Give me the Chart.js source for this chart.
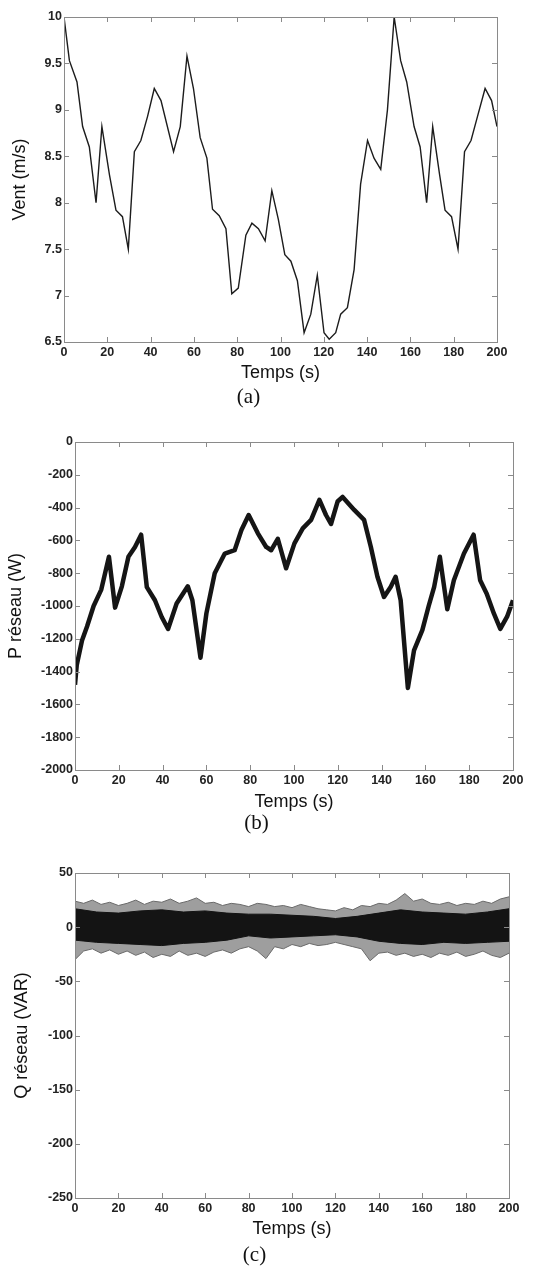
<!DOCTYPE html>
<html>
<head>
<meta charset="utf-8">
<script src="https://cdn.jsdelivr.net/npm/chart.js@4.4.0/dist/chart.umd.min.js"></script>
<style>
  body { margin: 0; background: #fff; }
  #page { position: relative; width: 550px; height: 1266px; }
  canvas { position: absolute; left: 0; }
</style>
</head>
<body>
<div id="page">
  <canvas id="chartVent" width="550" height="408" style="top:0px"></canvas>
  <canvas id="chartP" width="550" height="426" style="top:408px"></canvas>
  <canvas id="chartQ" width="550" height="432" style="top:834px"></canvas>
</div>
<script>
// Axe commun des temps
const tempsTicks = [0, 20, 40, 60, 80, 100, 120, 140, 160, 180, 200];

// (a) vent
const ventTemps = [0, 2.5, 6, 8.6, 11.7, 14.8, 17.5, 21, 24, 27, 29.7, 32.5, 35.5, 38.6, 41.7, 44.8, 50.6, 53.7, 56.8, 59.8, 62.9, 66, 68.6, 71.7, 74.8, 77.5, 80.5, 84, 86.8, 89.8, 92.9, 96, 99, 102, 104.8, 107.8, 110.9, 114, 117, 120.1, 122.5, 125.5, 127.8, 130.9, 134, 137, 140.2, 143.2, 146.3, 149.4, 152.5, 155.5, 158.3, 161.7, 164.5, 167.5, 170.3, 173.5, 176, 179, 182, 185, 188, 191, 194.5, 197.5, 200];
const ventValeurs = [10, 9.53, 9.3, 8.82, 8.6, 8.0, 8.82, 8.3, 7.92, 7.85, 7.5, 8.55, 8.67, 8.93, 9.23, 9.1, 8.55, 8.82, 9.58, 9.23, 8.7, 8.48, 7.93, 7.86, 7.72, 7.02, 7.08, 7.65, 7.78, 7.72, 7.59, 8.13, 7.82, 7.44, 7.37, 7.16, 6.6, 6.8, 7.22, 6.6, 6.53, 6.6, 6.8, 6.87, 7.28, 8.2, 8.67, 8.48, 8.36, 9.0, 10.0, 9.53, 9.3, 8.82, 8.6, 8.0, 8.82, 8.3, 7.92, 7.85, 7.5, 8.55, 8.67, 8.93, 9.23, 9.1, 8.82];
const ventTicks = [6.5, 7, 7.5, 8, 8.5, 9, 9.5, 10];

// (b) puissance active reseau
const pTemps = [0, 0.8, 3.2, 5.5, 8.5, 12, 15.5, 18.3, 21.4, 24.4, 27.4, 30.2, 32.8, 36.5, 39.6, 42.5, 46.4, 51.5, 53.6, 57.3, 60, 63.8, 68.4, 72.9, 76, 79.3, 83.5, 87.3, 89.6, 92.6, 96.4, 100.2, 104, 107.8, 111.6, 114.6, 116.9, 119.9, 122.2, 127.5, 132, 135.1, 138.1, 141.1, 144.2, 146.4, 148.7, 152, 154.8, 158.6, 161.5, 164, 166.6, 170, 173, 177.6, 182, 185, 188, 191.3, 194.2, 197.3, 200];
const pValeurs = [-1480, -1360, -1210, -1125, -1000, -900, -700, -1010, -880, -700, -640, -565, -885, -965, -1067, -1140, -985, -880, -965, -1315, -1045, -800, -680, -660, -537, -445, -557, -640, -660, -590, -770, -618, -527, -475, -353, -445, -500, -363, -335, -414, -475, -640, -822, -945, -883, -822, -965, -1500, -1270, -1147, -1000, -883, -700, -1020, -843, -680, -565, -843, -925, -1047, -1140, -1065, -965];
const pTicks = [-2000, -1800, -1600, -1400, -1200, -1000, -800, -600, -400, -200, 0];

// (c) puissance reactive reseau : enveloppes
const qTempsPics = [0, 4, 8, 12, 16, 20, 24, 28, 32, 36, 40, 44, 48, 52, 56, 60, 64, 68, 72, 76, 80, 84, 88, 92, 96, 100, 104, 108, 112, 116, 120, 124, 128, 132, 136, 140, 144, 148, 152, 156, 160, 164, 168, 172, 176, 180, 184, 188, 192, 196, 200];
const qPicsHaut = [24, 22, 25, 21, 23, 20, 22, 25, 21, 24, 23, 26, 22, 24, 27, 22, 23, 20, 22, 21, 19, 22, 21, 19, 20, 18, 21, 19, 17, 16, 15, 18, 16, 20, 19, 22, 21, 25, 31, 24, 26, 22, 21, 23, 20, 22, 21, 24, 22, 26, 28];
const qPicsBas = [-30, -22, -20, -24, -21, -25, -22, -26, -23, -28, -25, -27, -22, -26, -24, -27, -23, -21, -24, -20, -18, -22, -29, -18, -20, -16, -18, -15, -17, -16, -14, -16, -18, -20, -31, -24, -23, -26, -24, -27, -25, -28, -24, -26, -23, -27, -25, -22, -26, -28, -24];
const qTempsCoeur = [0, 10, 20, 30, 40, 50, 60, 70, 80, 90, 100, 110, 120, 130, 140, 150, 160, 170, 180, 190, 200];
const qCoeurHaut = [17, 14, 13, 15, 16, 14, 15, 13, 12, 12, 11, 10, 8, 10, 13, 16, 14, 13, 12, 14, 17];
const qCoeurBas = [-12, -14, -15, -16, -17, -15, -14, -12, -8, -10, -9, -8, -7, -9, -13, -15, -16, -14, -15, -14, -13];
const qTicks = [-250, -200, -150, -100, -50, 0, 50];

const police = "'Liberation Sans', Arial, sans-serif";
const policeSerif = "'Liberation Serif', 'Times New Roman', serif";

function points(xs, ys) {
    return xs.map((x, i) => ({ x: x, y: ys[i] }));
}

// Cadre et graduations vers l'interieur, comme sous MATLAB
const cadreMatlab = {
    id: 'cadreMatlab',
    afterDraw(chart) {
        const { ctx, chartArea: a, scales: { x, y } } = chart;
        ctx.save();
        ctx.strokeStyle = '#8a8a8a';
        ctx.lineWidth = 1;
        ctx.beginPath();
        x.ticks.forEach(t => {
            const px = Math.round(x.getPixelForValue(t.value)) + 0.5;
            ctx.moveTo(px, a.bottom); ctx.lineTo(px, a.bottom - 5);
            ctx.moveTo(px, a.top); ctx.lineTo(px, a.top + 5);
        });
        y.ticks.forEach(t => {
            const py = Math.round(y.getPixelForValue(t.value)) + 0.5;
            ctx.moveTo(a.left, py); ctx.lineTo(a.left + 5, py);
            ctx.moveTo(a.right, py); ctx.lineTo(a.right - 5, py);
        });
        ctx.stroke();
        ctx.strokeRect(Math.round(a.left) + 0.5, Math.round(a.top) + 0.5, Math.round(a.width), Math.round(a.height));
        ctx.restore();
    }
};

function options(cfg) {
    return {
        responsive: false,
        animation: false,
        layout: { padding: { top: cfg.haut, right: cfg.droite, left: 0, bottom: 0 } },
        plugins: {
            legend: { display: false },
            tooltip: { enabled: false },
            title: {
                display: true,
                position: 'bottom',
                text: cfg.legende,
                color: '#111',
                padding: 0,
                font: { family: policeSerif, size: 21, weight: 'normal', lineHeight: 1 }
            }
        },
        scales: {
            x: {
                type: 'linear',
                min: 0,
                max: 200,
                afterBuildTicks: s => { s.ticks = tempsTicks.map(v => ({ value: v })); },
                afterFit: s => { s.height = cfg.hautX; },
                grid: { display: false, drawTicks: false },
                border: { display: false },
                ticks: { autoSkip: false, maxRotation: 0, padding: 3, color: '#222',
                    callback: v => String(v),
                    font: { family: police, size: 12.5, weight: 'bold' } },
                title: { display: true, text: 'Temps (s)', color: '#111',
                    padding: { top: 0, bottom: cfg.titreX },
                    font: { family: police, size: 18 } }
            },
            y: {
                min: cfg.yTicks[0],
                max: cfg.yTicks[cfg.yTicks.length - 1],
                afterBuildTicks: s => { s.ticks = cfg.yTicks.map(v => ({ value: v })); },
                afterFit: s => { s.width = cfg.largeurY; },
                grid: { display: false, drawTicks: false },
                border: { display: false },
                ticks: { autoSkip: false, padding: 2, color: '#222',
                    callback: v => String(v),
                    font: { family: police, size: 12.5, weight: 'bold' } },
                title: { display: true, text: cfg.titreY, color: '#111',
                    padding: { top: cfg.titreYpad, bottom: 0 },
                    font: { family: police, size: 18 } }
            }
        }
    };
}

// Graphique (a)
new Chart(document.getElementById('chartVent'), {
    type: 'line',
    data: {
        datasets: [{
            data: points(ventTemps, ventValeurs),
            borderColor: '#1c1c1c',
            borderWidth: 1.4,
            pointRadius: 0,
            tension: 0
        }]
    },
    options: options({ haut: 17, droite: 53, hautX: 45, titreX: 3, largeurY: 64, titreY: 'Vent (m/s)', titreYpad: 9, yTicks: ventTicks, legende: '(a)' }),
    plugins: [cadreMatlab]
});

// Graphique (b)
new Chart(document.getElementById('chartP'), {
    type: 'line',
    data: {
        datasets: [{
            data: points(pTemps, pValeurs),
            borderColor: '#151515',
            borderWidth: 4.5,
            borderJoinStyle: 'round',
            pointRadius: 0,
            tension: 0
        }]
    },
    options: options({ haut: 34, droite: 37, hautX: 43, titreX: 0, largeurY: 75, titreY: 'P réseau (W)', titreYpad: 5, yTicks: pTicks, legende: '(b)' }),
    plugins: [cadreMatlab]
});

// Graphique (c)
new Chart(document.getElementById('chartQ'), {
    type: 'line',
    data: {
        datasets: [
            { data: points(qTempsPics, qPicsHaut), borderColor: '#6a6a6a', borderWidth: 1, pointRadius: 0, fill: false },
            { data: points(qTempsPics, qPicsBas), borderColor: '#6a6a6a', borderWidth: 1, pointRadius: 0,
              fill: '-1', backgroundColor: 'rgba(40,40,40,0.45)' },
            { data: points(qTempsCoeur, qCoeurHaut), borderColor: '#000', borderWidth: 1, pointRadius: 0, fill: false },
            { data: points(qTempsCoeur, qCoeurBas), borderColor: '#000', borderWidth: 1, pointRadius: 0,
              fill: '-1', backgroundColor: '#050505' }
        ]
    },
    options: options({ haut: 39, droite: 41, hautX: 47, titreX: 5, largeurY: 75, titreY: 'Q réseau (VAR)', titreYpad: 11, yTicks: qTicks, legende: '(c)' }),
    plugins: [cadreMatlab]
});
</script>
</body>
</html>
